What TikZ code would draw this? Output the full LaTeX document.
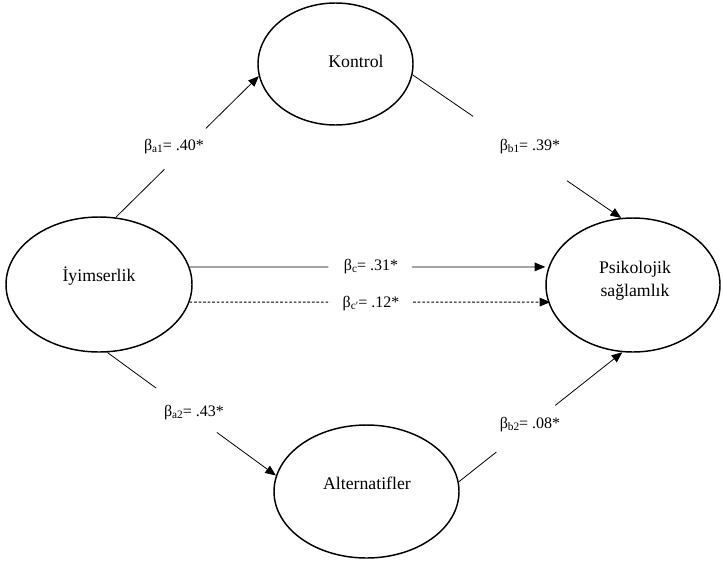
\documentclass[tikz,border=0pt]{standalone}
\usepackage{fontspec}
\setmainfont{Liberation Serif}
\usetikzlibrary{arrows.meta,shapes.geometric,calc}
\newcommand\betalab[2]{β\raisebox{-0.25ex}{\fontsize{8.5}{9}\selectfont #1}= #2}
\begin{document}
\begin{tikzpicture}[x=0.75pt,y=-0.75pt,
  ell/.style={draw,ellipse,line width=1.1pt,inner sep=0pt},
  txt/.style={font=\fontsize{13.3}{17}\selectfont,align=center,inner sep=0pt},
  lab/.style={font=\fontsize{12}{14}\selectfont,inner sep=0pt},
  conn/.style={line width=0.6pt},
  arr/.style={conn,-{Triangle[length=8pt,width=6.5pt]}},
  dsh/.style={dash pattern=on 2pt off 1.4pt}
]
\useasboundingbox (0,0) rectangle (723,564);
% ellipses
\node[ell,minimum width=139.5pt,minimum height=101.25pt] (iy) at (99,284.5) {};
\node[ell,minimum width=116.25pt,minimum height=91.5pt] (ko) at (335.5,64) {};
\node[ell,minimum width=130.5pt,minimum height=100.5pt] (ps) at (633,285) {};
\node[ell,minimum width=138.75pt,minimum height=99.75pt] (al) at (366.5,491.5) {};
% texts
\node[txt] (tiy) at (99,276) {İyimserlik};
\node[txt] (tko) at (356,61) {Kontrol};
\node[txt] (tps) at (635,281) {Psikolojik\\sağlamlık};
\node[txt] (tal) at (367,483) {Alternatifler};
% connectors
\draw[conn] (iy.76.5) -- ($(iy.76.5)!0.34!(ko.189)$);
\draw[arr] ($(iy.76.5)!0.63!(ko.189)$) -- (ko.189);
\draw[conn] (ko.-8) -- ($(ko.-8)!0.29!(ps.100)$);
\draw[arr] ($(ko.-8)!0.74!(ps.100)$) -- (ps.100);
\coordinate (cE) at (iy.11 -| ps.west);
\draw[conn] (iy.11) -- ($(iy.11)!0.39!(cE)$);
\draw[arr] ($(iy.11)!0.625!(cE)$) -- (cE);
\coordinate (dE) at ($(iy.-11 -| ps.west)+(5,0)$);
\draw[conn,dsh] (iy.-11) -- ($(iy.-11)!0.39!(dE)$);
\draw[arr,dsh] ($(iy.-11)!0.62!(dE)$) -- (dE);
\draw[conn] (iy.-83.4) -- ($(iy.-83.4)!0.29!(al.170)$);
\draw[arr] ($(iy.-83.4)!0.65!(al.170)$) -- (al.170);
\draw[conn] (al.6) -- ($(al.6)!0.23!(ps.-99)$);
\draw[arr] ($(al.6)!0.59!(ps.-99)$) -- (ps.-99);
% labels
\node[lab] (la1) at (174,147) {\betalab{a1}{.40*}};
\node[lab] (lb1) at (530,147) {\betalab{b1}{.39*}};
\node[lab] (lc) at (371,267) {\betalab{c}{.31*}};
\node[lab] (lcp) at (371,304) {\betalab{c′}{.12*}};
\node[lab] (la2) at (194,413) {\betalab{a2}{.43*}};
\node[lab] (lb2) at (530,425) {\betalab{b2}{.08*}};
\end{tikzpicture}
\end{document}
